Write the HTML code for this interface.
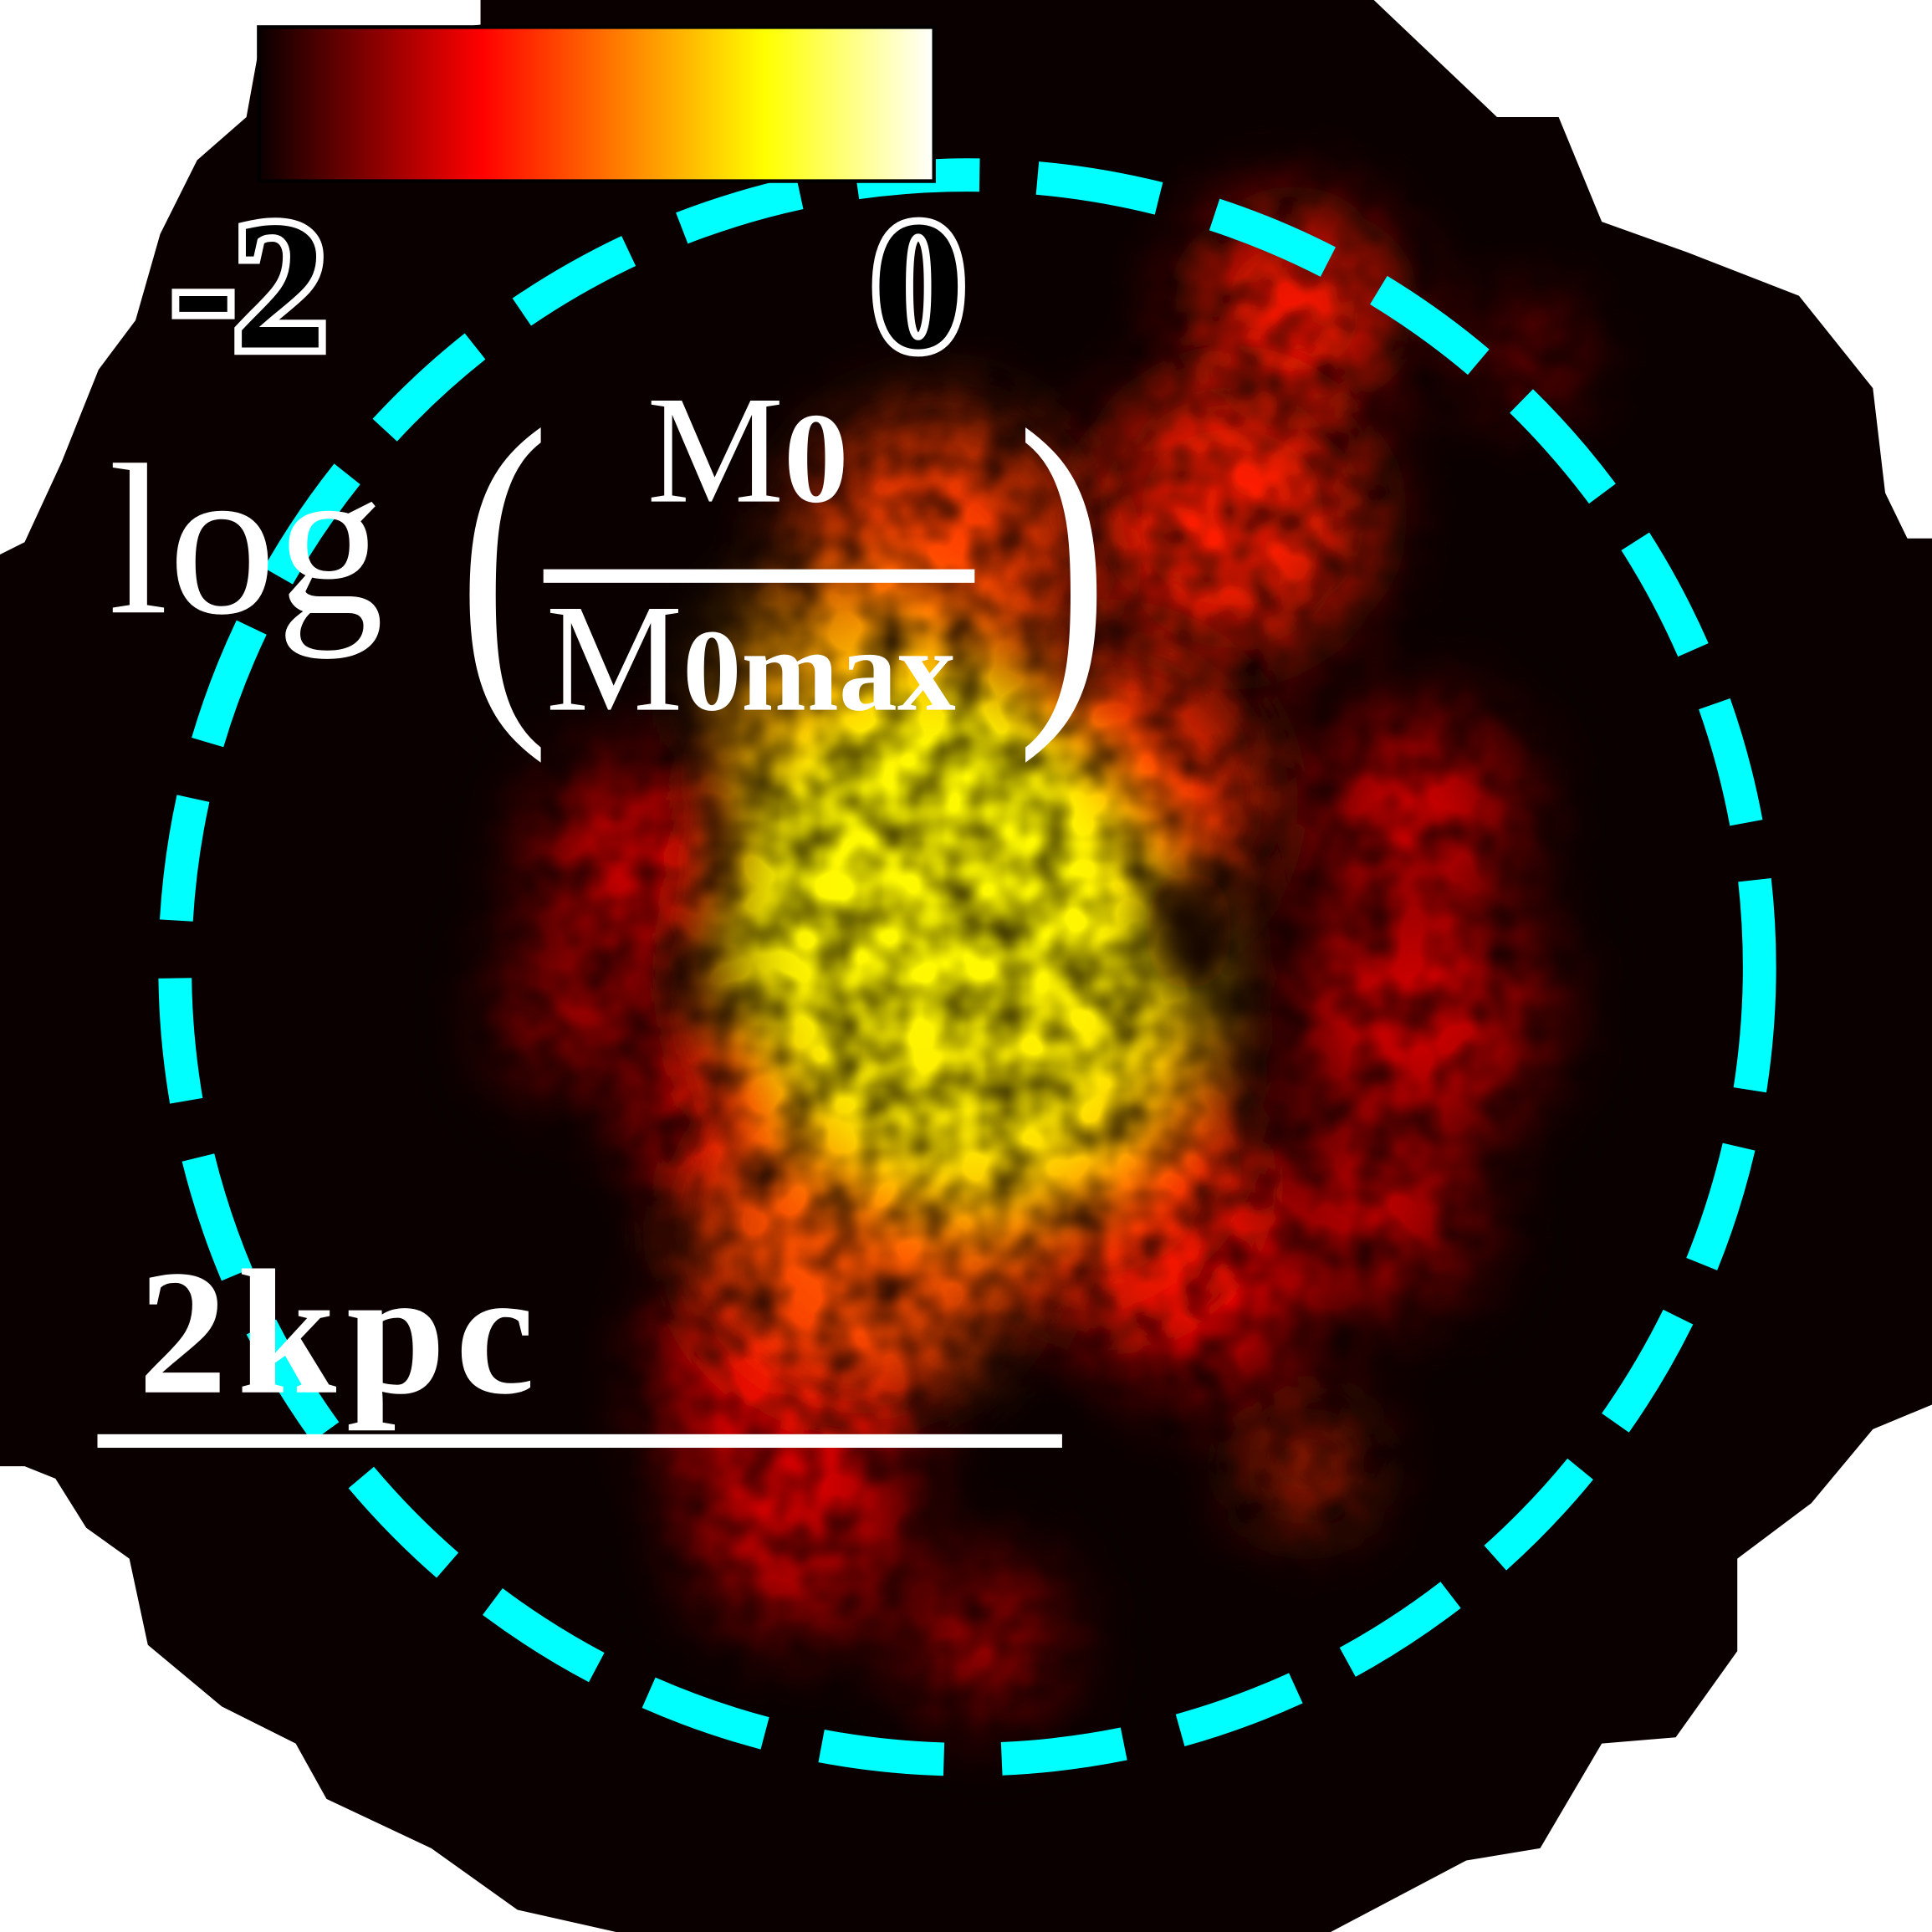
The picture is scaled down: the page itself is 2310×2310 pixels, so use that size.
<!DOCTYPE html>
<html><head><meta charset="utf-8"><style>
html,body{margin:0;padding:0;background:#fff}
svg{display:block}
.serif{font-family:"Liberation Serif","Tinos","Nimbus Roman","Nimbus Roman No9 L","FreeSerif","Times New Roman",Times,serif}
</style></head><body>
<svg width="2310" height="2310" viewBox="0 0 1568 1568" xmlns="http://www.w3.org/2000/svg">
<defs>
<linearGradient id="hot" x1="0" x2="1" y1="0" y2="0">
<stop offset="0" stop-color="#0a0000"/><stop offset="0.33" stop-color="#ff0000"/><stop offset="0.75" stop-color="#ffff00"/><stop offset="1" stop-color="#ffffff"/>
</linearGradient>
<filter id="b40" filterUnits="userSpaceOnUse" x="0" y="0" width="1568" height="1568"><feGaussianBlur stdDeviation="36"/></filter>
<filter id="b20" filterUnits="userSpaceOnUse" x="0" y="0" width="1568" height="1568"><feGaussianBlur stdDeviation="20"/></filter>
<filter id="clump" filterUnits="userSpaceOnUse" x="0" y="0" width="1568" height="1568">
<feTurbulence type="fractalNoise" baseFrequency="0.03" numOctaves="2" seed="4" result="n"/>
<feColorMatrix in="n" type="matrix" values="0 0 0 0 0  0 0 0 0 0  0 0 0 0 0  0 0 0 -1.4 1.45" result="m"/>
<feComposite in="SourceGraphic" in2="m" operator="in"/>
</filter>
</defs>
<polygon fill="#0a0000" points="390,0 1115,0 1215,95 1265,95 1300,180 1370,205 1460,240 1520,315 1530,400 1548,437 1568,437 1568,1140 1520,1160 1470,1220 1410,1265 1410,1340 1360,1410 1300,1415 1250,1500 1190,1510 1080,1568 500,1568 420,1550 350,1500 265,1460 240,1415 180,1385 120,1335 105,1265 70,1240 45,1200 20,1190 0,1190 0,450 20,440 50,375 80,300 110,260 130,190 160,130 200,95 210,40 390,20"/>
<g id="emission" filter="url(#clump)"></g>
<ellipse cx="965" cy="755" rx="35" ry="50" fill="#0a0000" filter="url(#b20)"/>
<circle cx="785" cy="785" r="643" fill="none" stroke="#00ffff" stroke-width="27" stroke-dasharray="100 47"/>
<rect x="210" y="22" width="548" height="125" fill="url(#hot)" stroke="#000" stroke-width="3"/>
<g class="serif" font-weight="bold" font-size="150" fill="#000" stroke="#fff" stroke-width="12" paint-order="stroke">
<text x="140" y="282">-2</text>
<text x="708" y="282">0</text>
</g>
<g class="serif" fill="#fff">
<text x="88" y="497" font-size="175">log</text>
<text x="495" y="555" font-size="300" transform="scale(0.75,1)">(</text>
<text x="1100" y="555" font-size="300" transform="scale(0.75,1)">)</text>
<text x="525" y="407" font-size="125">M<tspan font-size="105" font-weight="bold">0</tspan></text>
<rect x="441" y="462" width="350" height="11"/>
<text x="443" y="576" font-size="125">M<tspan font-size="95" font-weight="bold">0max</tspan></text>
</g>
<text class="serif" x="112" y="1130" font-weight="bold" font-size="145" textLength="322" fill="#fff">2kpc</text>
<rect x="79" y="1164" width="783" height="11" fill="#fff"/>
<script>
const blobX=[780,760,700,830,900,1000,1050,1150,640,520,470,700,650,900,980,760,800,1120,1060,1240,1150,600];
const blobY=[790,700,580,860,650,420,250,820,1120,700,820,1000,1240,960,1040,450,1330,980,1190,290,660,900];
const blobR=[190,150,110,140,120,110,80,100,100,80,55,130,80,110,85,110,55,75,40,30,80,75];
const blobLevel=[0.72,0.74,0.6,0.58,0.4,0.38,0.36,0.26,0.3,0.27,0.25,0.46,0.28,0.38,0.3,0.43,0.25,0.25,0.4,0.33,0.27,0.33];
const g=document.getElementById('emission');
const ns='http://www.w3.org/2000/svg';
function col(v){
  if(v<0.33){return 'rgb('+Math.round(10+245*v/0.33)+',0,0)';}
  if(v<0.75){return 'rgb(255,'+Math.round(255*(v-0.33)/0.42)+',0)';}
  return 'rgb(255,255,'+Math.round(255*(v-0.75)/0.25)+')';
}
const order=blobLevel.map((v,i)=>i).sort((a,b)=>blobLevel[a]-blobLevel[b]);
order.forEach(i=>{
  const c=document.createElementNS(ns,'circle');
  
  
  c.setAttribute('cx',blobX[i]);c.setAttribute('cy',blobY[i]);c.setAttribute('r',blobR[i]);
  c.setAttribute('fill',col(blobLevel[i]));
  c.setAttribute('filter','url(#b40)');
  g.appendChild(c);
});
</script>
</svg>
</body></html>
